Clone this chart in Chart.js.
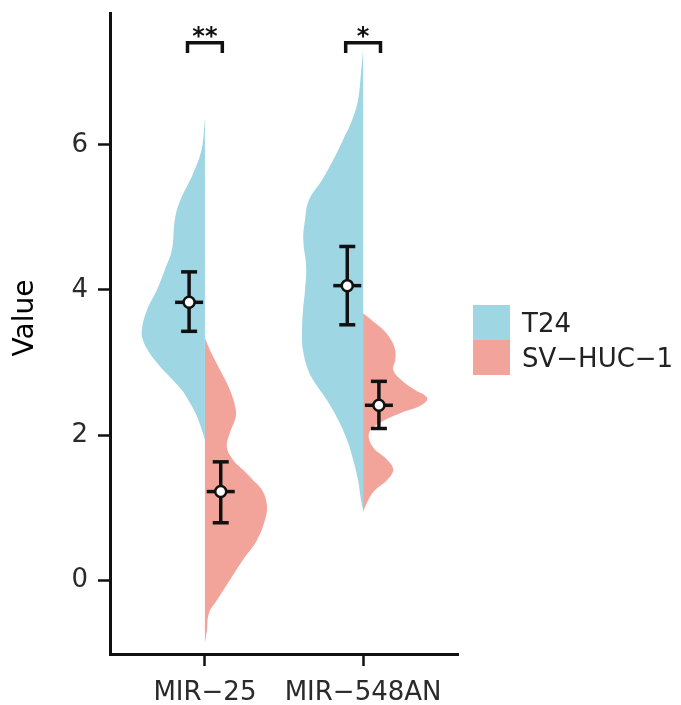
<!DOCTYPE html>
<html>
<head>
<meta charset="utf-8">
<script src="https://cdn.jsdelivr.net/npm/chart.js@4.4.1/dist/chart.umd.min.js"></script>
<style>
  html, body { margin: 0; padding: 0; background: #fff; }
</style>
</head>
<body>
<canvas id="chart" width="681" height="705"></canvas>
<script>
const categories = ["MIR\u221225", "MIR\u2212548AN"];
const groups = ["T24", "SV\u2212HUC\u22121"];
const yTicks = [0, 2, 4, 6];

// mean + error bar ends, one entry per category
const t24Mean = [3.83, 4.06];
const t24Low = [3.43, 3.52];
const t24High = [4.25, 4.60];
const svMean = [1.22, 2.41];
const svLow = [0.79, 2.09];
const svHigh = [1.63, 2.74];

const signif = ["**", "*"];

// half violins: value grid and density half-width (in category units)
const mir25T24Y = [6.37, 5.93, 5.59, 5.24, 4.97, 4.55, 4.28, 4.00, 3.72, 3.45, 3.31, 3.17, 3.03, 2.90, 2.76, 2.62, 2.48, 2.34, 2.21, 2.07, 1.93];
const mir25T24W = [0, .022, .078, .155, .19, .209, .253, .304, .367, .399, .392, .361, .316, .266, .203, .146, .105, .068, .042, .019, 0];
const mir25SvY = [3.34, 3.17, 2.90, 2.62, 2.34, 2.21, 2.03, 1.83, 1.66, 1.52, 1.38, 1.24, 1.03, 0.83, 0.55, 0.28, 0.00, -0.28, -0.46, -0.69, -0.87];
const mir25SvW = [0, .032, .095, .158, .196, .19, .158, .139, .177, .241, .304, .361, .392, .38, .329, .241, .158, .076, .025, .013, 0];
const mir548T24Y = [7.31, 7.00, 6.62, 6.34, 6.07, 5.79, 5.52, 5.24, 4.97, 4.69, 4.32, 4.00, 3.72, 3.41, 3.17, 2.90, 2.76, 2.48, 2.21, 1.93, 1.66, 1.38, 1.10, 0.97];
const mir548T24W = [0, .013, .032, .07, .127, .19, .259, .342, .367, .378, .36, .367, .38, .386, .38, .348, .316, .228, .158, .101, .063, .032, .013, 0];
const mir548SvY = [3.68, 3.59, 3.45, 3.31, 3.17, 3.03, 2.90, 2.76, 2.62, 2.51, 2.41, 2.30, 2.17, 2.03, 1.83, 1.66, 1.52, 1.38, 1.24, 1.10, 0.94];
const mir548SvW = [0, .051, .127, .177, .203, .203, .19, .241, .329, .405, .367, .234, .108, .038, .063, .152, .19, .152, .076, .032, 0];

const blue = "#9ED6E4";
const red = "#F3A49A";
const ink = "#111111";
const dodge = 0.1;
const font = "DejaVu Sans";

function halfViolin(center, side, ys, ws, color) {
  return {
    data: ys.map((y, i) => ({ x: center + side * ws[i], y: y })),
    showLine: true,
    fill: "shape",
    backgroundColor: color,
    borderColor: "rgba(0,0,0,0)",
    borderWidth: 1,
    pointRadius: 0,
    tension: 0.4,
    order: 5
  };
}

const datasets = [
  halfViolin(1, -1, mir25T24Y, mir25T24W, blue),
  halfViolin(1, 1, mir25SvY, mir25SvW, red),
  halfViolin(2, -1, mir548T24Y, mir548T24W, blue),
  halfViolin(2, 1, mir548SvY, mir548SvW, red)
];

const summary = [
  { off: -dodge, mean: t24Mean, low: t24Low, high: t24High },
  { off: dodge, mean: svMean, low: svLow, high: svHigh }
];

summary.forEach(s => {
  categories.forEach((c, i) => {
    datasets.push({
      data: [{ x: i + 1 + s.off, y: s.low[i] }, { x: i + 1 + s.off, y: s.high[i] }],
      showLine: true,
      borderColor: ink,
      borderWidth: 3.5,
      pointStyle: "line",
      pointRadius: 8,
      pointBorderWidth: 3.5,
      pointBorderColor: ink,
      order: 3
    });
  });
  const pts = s.mean.map((m, i) => ({ x: i + 1 + s.off, y: m }));
  // short horizontal bar through the mean
  datasets.push({
    data: pts,
    pointStyle: "line",
    pointRadius: 14,
    pointBorderWidth: 3.5,
    pointBorderColor: ink,
    order: 2
  });
  datasets.push({
    data: pts,
    pointStyle: "circle",
    pointRadius: 5.5,
    pointBackgroundColor: "#ffffff",
    pointBorderColor: ink,
    pointBorderWidth: 2.5,
    order: 1
  });
});

const overlay = {
  id: "overlay",
  afterDraw(chart) {
    const ctx = chart.ctx;
    const xs = chart.scales.x;
    const ys = chart.scales.y;
    ctx.save();

    // y axis title
    ctx.save();
    ctx.translate(33, 318);
    ctx.rotate(-Math.PI / 2);
    ctx.fillStyle = "#000";
    ctx.font = "28px '" + font + "'";
    ctx.textAlign = "center";
    ctx.textBaseline = "alphabetic";
    ctx.fillText("Value", 0, 0);
    ctx.restore();

    // significance brackets
    ctx.strokeStyle = ink;
    ctx.lineWidth = 3.5;
    ctx.fillStyle = ink;
    ctx.font = "bold 24px '" + font + "'";
    ctx.textAlign = "center";
    signif.forEach((lab, i) => {
      const x1 = xs.getPixelForValue(i + 1 - 0.11);
      const x2 = xs.getPixelForValue(i + 1 + 0.11);
      const yTop = ys.getPixelForValue(7.41);
      const yBot = ys.getPixelForValue(7.27);
      ctx.beginPath();
      ctx.moveTo(x1, yBot);
      ctx.lineTo(x1, yTop);
      ctx.lineTo(x2, yTop);
      ctx.lineTo(x2, yBot);
      ctx.stroke();
      ctx.fillText(lab, (x1 + x2) / 2, yTop + 1);
    });

    // legend
    const colors = [blue, red];
    ctx.font = "26px '" + font + "'";
    ctx.textAlign = "left";
    groups.forEach((g, i) => {
      ctx.fillStyle = colors[i];
      ctx.fillRect(473, 305 + i * 35, 37, 35);
      ctx.fillStyle = "#222";
      ctx.fillText(g, 522, 332 + i * 35);
    });
    ctx.restore();
  }
};

const axisGrid = {
  display: true,
  drawOnChartArea: false,
  drawTicks: true,
  tickLength: 12,
  tickWidth: 2.5,
  tickColor: ink
};

function noPad(s) {
  s.paddingTop = 0;
  s.paddingBottom = 0;
  s.paddingLeft = 0;
  s.paddingRight = 0;
}

new Chart(document.getElementById("chart"), {
  type: "scatter",
  data: { datasets: datasets },
  options: {
    responsive: false,
    animation: false,
    events: [],
    layout: { autoPadding: false, padding: { top: 13, right: 223, left: 0, bottom: 0 } },
    plugins: { legend: { display: false }, tooltip: { enabled: false } },
    scales: {
      x: {
        type: "linear",
        min: 0.4,
        max: 2.6,
        afterBuildTicks: s => { s.ticks = categories.map((c, i) => ({ value: i + 1 })); },
        afterFit: s => { s.height = 51; noPad(s); },
        ticks: {
          callback: v => categories[Math.round(v) - 1],
          font: { family: font, size: 26 },
          color: "#2a2a2a",
          padding: 12,
          maxRotation: 0,
          autoSkip: false
        },
        grid: axisGrid,
        border: { display: true, color: ink, width: 3 }
      },
      y: {
        type: "linear",
        min: -1.02,
        max: 7.82,
        afterBuildTicks: s => { s.ticks = yTicks.map(v => ({ value: v })); },
        afterFit: s => { s.width = 110; noPad(s); },
        ticks: {
          font: { family: font, size: 26 },
          color: "#2a2a2a",
          padding: 10
        },
        grid: axisGrid,
        border: { display: true, color: ink, width: 3 }
      }
    }
  },
  plugins: [overlay]
});
</script>
</body>
</html>
